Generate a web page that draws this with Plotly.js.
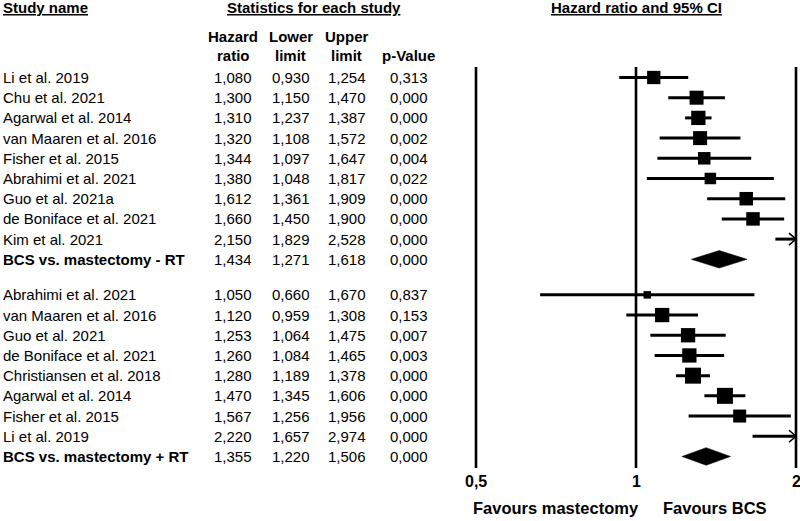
<!DOCTYPE html>
<html><head><meta charset="utf-8">
<script src="https://cdn.plot.ly/plotly-3.0.1.min.js"></script>
<style>html,body{margin:0;padding:0;background:#fff}#chart{width:800px;height:521px}</style>
</head><body><div id="chart"></div>
<script>
// ---------- DATA ----------
// Group 1: BCS vs. mastectomy - RT
const studies1 = ["Li et al. 2019","Chu et al. 2021","Agarwal et al. 2014","van Maaren et al. 2016","Fisher et al. 2015","Abrahimi et al. 2021","Guo et al. 2021a","de Boniface et al. 2021","Kim et al. 2021"];
const hr1 = [1.080,1.300,1.310,1.320,1.344,1.380,1.612,1.660,2.150];
const lo1 = [0.930,1.150,1.237,1.108,1.097,1.048,1.361,1.450,1.829];
const hi1 = [1.254,1.470,1.387,1.572,1.647,1.817,1.909,1.900,2.528];
const p1  = [0.313,0.000,0.000,0.002,0.004,0.022,0.000,0.000,0.000];
const weight1 = [13.3,14,14.3,14,12.5,11.5,13.5,13.5,14];

// Group 2: BCS vs. mastectomy + RT
const studies2 = ["Abrahimi et al. 2021","van Maaren et al. 2016","Guo et al. 2021","de Boniface et al. 2021","Christiansen et al. 2018","Agarwal et al. 2014","Fisher et al. 2015","Li et al. 2019"];
const hr2 = [1.050,1.120,1.253,1.260,1.280,1.470,1.567,2.220];
const lo2 = [0.660,0.959,1.064,1.084,1.189,1.345,1.256,1.657];
const hi2 = [1.670,1.308,1.475,1.465,1.378,1.606,1.956,2.974];
const p2  = [0.837,0.153,0.007,0.003,0.000,0.000,0.000,0.000];
const weight2 = [7.5,14.3,14.3,14.3,16,16,13,14];

// Pooled summaries
const summaryLabels = ["BCS vs. mastectomy - RT","BCS vs. mastectomy + RT"];
const summaryHR = [1.434,1.355];
const summaryLo = [1.271,1.220];
const summaryHi = [1.618,1.506];
const summaryP  = [0.000,0.000];

// Axis ticks
const tickVals = [0.5,1,2];
const tickLabels = ["0,5","1","2"];

// ---------- LAYOUT CONSTANTS ----------
const W = 800, H = 521;
const ROW0_PX = 77.5, ROW_PX = 20.2, GROUP_GAP = 0.76;
const X_LO_PX = 476, X_HI_PX = 796;          // pixel of 0.5 and 2
const PX_PER_DEC = (X_HI_PX - X_LO_PX) / (Math.log10(2) - Math.log10(0.5));
const AXMAX = tickVals[tickVals.length-1];
const FONT = "Arial, 'Liberation Sans', sans-serif";
const FS = 15;

const xRange = [Math.log10(0.5) - X_LO_PX / PX_PER_DEC, Math.log10(2) + (W - X_HI_PX) / PX_PER_DEC];
const yRange = [(H - ROW0_PX) / ROW_PX, -ROW0_PX / ROW_PX];
const pxToRow = py => (py - ROW0_PX) / ROW_PX;
const px = x => x / W;
const py = y => 1 - y / H;
const fmt = v => v.toFixed(3).replace('.', ',');

// rows
const rows = [];
studies1.forEach((s,i)=>rows.push({name:s,hr:hr1[i],lo:lo1[i],hi:hi1[i],p:p1[i],w:weight1[i],y:i,sum:false}));
rows.push({name:summaryLabels[0],hr:summaryHR[0],lo:summaryLo[0],hi:summaryHi[0],p:summaryP[0],y:studies1.length,sum:true});
const g2 = studies1.length + 1 + GROUP_GAP;
studies2.forEach((s,i)=>rows.push({name:s,hr:hr2[i],lo:lo2[i],hi:hi2[i],p:p2[i],w:weight2[i],y:g2+i,sum:false}));
rows.push({name:summaryLabels[1],hr:summaryHR[1],lo:summaryLo[1],hi:summaryHi[1],p:summaryP[1],y:g2+studies2.length,sum:true});

const traces = [];
// reference lines
const vTop = pxToRow(67), vBot = pxToRow(468);
const vx = [], vy = [];
tickVals.forEach(t=>{vx.push(t,t,null); vy.push(vTop,vBot,null);});
traces.push({type:'scatter',mode:'lines',x:vx,y:vy,line:{color:'#000',width:2.6},hoverinfo:'skip'});

// CI lines
const cx = [], cy = [], ax = [], ay = [];
const headDx = Math.pow(10, -7 / PX_PER_DEC), headDy = 6 / ROW_PX;
rows.filter(r=>!r.sum).forEach(r=>{
  const hi = Math.min(r.hi, AXMAX);
  cx.push(r.lo, hi, null); cy.push(r.y, r.y, null);
  if (r.hi > AXMAX) {
    ax.push(AXMAX*headDx, AXMAX, AXMAX*headDx, null);
    ay.push(r.y - headDy, r.y, r.y + headDy, null);
  }
});
traces.push({type:'scatter',mode:'lines',x:cx,y:cy,line:{color:'#000',width:3},hoverinfo:'skip'});
traces.push({type:'scatter',mode:'lines',x:ax,y:ay,line:{color:'#000',width:1.6},hoverinfo:'skip'});

// boxes
const st = rows.filter(r=>!r.sum);
traces.push({type:'scatter',mode:'markers',x:st.map(r=>r.hr),y:st.map(r=>r.y),
  marker:{symbol:'square',color:'#000',opacity:1,size:st.map(r=>r.w),line:{width:0}},hoverinfo:'skip'});

// diamonds
const dh = 8.8 / ROW_PX;
rows.filter(r=>r.sum).forEach(r=>{
  traces.push({type:'scatter',mode:'lines',fill:'toself',fillcolor:'#000',
    x:[r.lo,r.hr,r.hi,r.hr,r.lo],y:[r.y,r.y-dh,r.y,r.y+dh,r.y],line:{color:'#000',width:0.5},hoverinfo:'skip'});
});

// annotations
const ann = [];
const txt = (text,x,y,opts={}) => ann.push(Object.assign({text,x,y,xref:'paper',yref:'paper',showarrow:false,
  xanchor:'center',yanchor:'middle',font:{family:FONT,size:FS,color:'#000'}},opts));
const colX = [233, 290.5, 346.5, 408.5];
rows.forEach(r=>{
  const yr = {yref:'y'};
  txt(r.sum ? '<b>'+r.name+'</b>' : r.name, px(1), r.y, Object.assign({xanchor:'left'},yr));
  [r.hr,r.lo,r.hi,r.p].forEach((v,k)=>txt(fmt(v), px(colX[k]), r.y, yr));
});
// headers
txt('<b><u>Study name</u></b>', px(1), py(8), {xanchor:'left'});
txt('<b><u>Statistics for each study</u></b>', px(314), py(8));
txt('<b><u>Hazard ratio and 95% CI</u></b>', px(636), py(8));
const hdr1 = ['Hazard','Lower','Upper',''], hdr2 = ['ratio','limit','limit','p-Value'];
hdr1.forEach((h,k)=>{ if(h) txt('<b>'+h+'</b>', px(colX[k]), py(37)); });
hdr2.forEach((h,k)=>txt('<b>'+h+'</b>', px(colX[k]), py(55.5)));
// tick labels
tickVals.forEach((t,k)=>ann.push({text:'<b>'+tickLabels[k]+'</b>',x:Math.log10(t),y:py(481),xref:'x',yref:'paper',
  showarrow:false,xanchor:'center',yanchor:'middle',font:{family:FONT,size:16,color:'#000'}}));
txt('<b>Favours mastectomy</b>', px(556), py(508), {font:{family:FONT,size:16.5,color:'#000'}});
txt('<b>Favours BCS</b>', px(715), py(508), {font:{family:FONT,size:16.5,color:'#000'}});

const layout = {
  width:W,height:H,margin:{l:0,r:0,t:0,b:0,pad:0},
  paper_bgcolor:'#fff',plot_bgcolor:'#fff',showlegend:false,
  xaxis:{type:'log',range:xRange,showgrid:false,zeroline:false,showline:false,showticklabels:false,ticks:'',fixedrange:true},
  yaxis:{range:yRange,showgrid:false,zeroline:false,showline:false,showticklabels:false,ticks:'',fixedrange:true},
  annotations:ann,
  font:{family:FONT,size:FS,color:'#000'}
};
Plotly.newPlot('chart',traces,layout,{displayModeBar:false,staticPlot:true});
</script>
</body></html>
